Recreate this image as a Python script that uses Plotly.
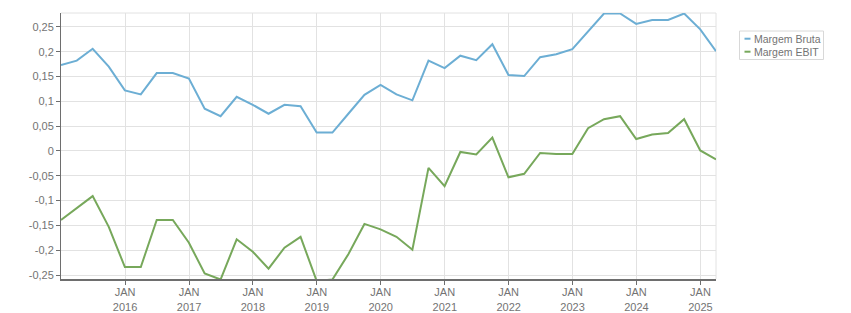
import plotly.graph_objects as go

dates = [
    "2014-12-31", "2015-03-31", "2015-06-30", "2015-09-30",
    "2015-12-31", "2016-03-31", "2016-06-30", "2016-09-30",
    "2016-12-31", "2017-03-31", "2017-06-30", "2017-09-30",
    "2017-12-31", "2018-03-31", "2018-06-30", "2018-09-30",
    "2018-12-31", "2019-03-31", "2019-06-30", "2019-09-30",
    "2019-12-31", "2020-03-31", "2020-06-30", "2020-09-30",
    "2020-12-31", "2021-03-31", "2021-06-30", "2021-09-30",
    "2021-12-31", "2022-03-31", "2022-06-30", "2022-09-30",
    "2022-12-31", "2023-03-31", "2023-06-30", "2023-09-30",
    "2023-12-31", "2024-03-31", "2024-06-30", "2024-09-30",
    "2024-12-31", "2025-03-31",
]

margem_bruta = [
    0.173, 0.182, 0.206, 0.170, 0.122, 0.114, 0.157, 0.157,
    0.146, 0.085, 0.070, 0.109, 0.093, 0.075, 0.093, 0.090,
    0.037, 0.037, 0.075, 0.113, 0.133, 0.114, 0.102, 0.182,
    0.167, 0.192, 0.183, 0.215, 0.153, 0.151, 0.189, 0.195,
    0.205, 0.240, 0.277, 0.277, 0.256, 0.264, 0.264, 0.277,
    0.245, 0.201,
]

margem_ebit = [
    -0.139, -0.115, -0.091, -0.153, -0.234, -0.234, -0.139, -0.139,
    -0.185, -0.247, -0.259, -0.178, -0.203, -0.237, -0.195, -0.173,
    -0.262, -0.259, -0.208, -0.147, -0.158, -0.173, -0.199, -0.034,
    -0.071, -0.002, -0.007, 0.027, -0.053, -0.046, -0.004, -0.006,
    -0.006, 0.046, 0.064, 0.070, 0.024, 0.033, 0.036, 0.064,
    0.001, -0.017,
]

series_names = ["Margem Bruta", "Margem EBIT"]
colors = ["#6caed4", "#77a85b"]

x_tickvals = [f"{y}-01-01" for y in range(2016, 2026)]
x_ticktext = [f"JAN<br>{y}" for y in range(2016, 2026)]

y_tickvals = [-0.25, -0.2, -0.15, -0.1, -0.05, 0, 0.05, 0.1, 0.15, 0.2, 0.25]
y_ticktext = ["-0,25", "-0,2", "-0,15", "-0,1", "-0,05", "0",
              "0,05", "0,1", "0,15", "0,2", "0,25"]

fig = go.Figure()
for name, vals, col in zip(series_names, [margem_bruta, margem_ebit], colors):
    fig.add_trace(go.Scatter(x=dates, y=vals, mode="lines", name=name,
                             line=dict(color=col, width=2), showlegend=False))

L, R, T, B = 61, 135, 13, 34
W, H = 851, 313

fig.update_layout(
    width=W, height=H,
    margin=dict(l=L, r=R, t=T, b=B, pad=0, autoexpand=False),
    paper_bgcolor="white", plot_bgcolor="white",
    font=dict(family="Liberation Sans", size=11, color="#737373"),
    xaxis=dict(
        type="date", range=["2014-12-31", "2025-03-31"],
        tickmode="array", tickvals=x_tickvals, ticktext=x_ticktext,
        showgrid=True, gridcolor="#e2e2e2", gridwidth=1,
        showline=True, linecolor="#6e6e6e", linewidth=2,
        ticks="outside", ticklen=4, tickcolor="#6e6e6e", tickwidth=1,
        ticklabelstandoff=-2,
        zeroline=False, automargin=False,
    ),
    yaxis=dict(
        range=[-0.258, 0.278],
        tickmode="array", tickvals=y_tickvals, ticktext=y_ticktext,
        showgrid=True, gridcolor="#e2e2e2", gridwidth=1,
        showline=True, linecolor="#6e6e6e", linewidth=1,
        ticks="outside", ticklen=4, tickcolor="#6e6e6e", tickwidth=1,
        zeroline=False, automargin=False,
    ),
    showlegend=False,
)

# light border on top / right of plot area
fig.add_shape(type="line", xref="paper", yref="paper", x0=0, x1=1, y0=1, y1=1,
              line=dict(color="#e2e2e2", width=1), layer="below")
fig.add_shape(type="line", xref="paper", yref="paper", x0=1, x1=1, y0=0, y1=1,
              line=dict(color="#e2e2e2", width=1), layer="below")

# manual legend (pixel -> paper)
pw, ph = W - L - R, H - T - B
def px(x):
    return (x - L) / pw
def py(y):
    return (H - B - y) / ph

fig.add_shape(type="rect", xref="paper", yref="paper",
              x0=px(739.5), x1=px(823.5), y0=py(59.5), y1=py(31),
              line=dict(color="#d8d8d8", width=1), fillcolor="white")
for i, (name, col) in enumerate(zip(series_names, colors)):
    yy = 38.7 + i * 13
    fig.add_shape(type="line", xref="paper", yref="paper",
                  x0=px(744.5), x1=px(750.5), y0=py(yy), y1=py(yy),
                  line=dict(color=col, width=2))
    fig.add_annotation(xref="paper", yref="paper", x=px(751.5), y=py(yy),
                       text=name, showarrow=False, xanchor="left", yanchor="middle",
                       font=dict(family="Liberation Sans", size=10.5, color="#737373"))

fig.write_html("out.html")
